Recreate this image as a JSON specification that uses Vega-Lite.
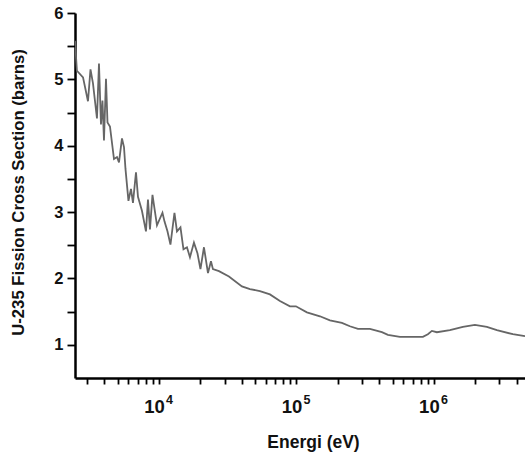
{
  "$schema": "https://vega.github.io/schema/vega-lite/v6.json",
  "width": 450,
  "height": 365,
  "autosize": "none",
  "padding": {"left": 75, "top": 13, "right": 0, "bottom": 77},
  "background": "white",
  "config": {"view": {"stroke": null}, "font": "Liberation Sans"},
  "resolve": {"axis": {"x": "independent"}},
  "layer": [
    {
      "data": {"values": [
        {"E": 2450, "sigma": 5.58},
        {"E": 2530, "sigma": 5.13},
        {"E": 2802, "sigma": 5.03},
        {"E": 3045, "sigma": 4.67},
        {"E": 3176, "sigma": 5.15},
        {"E": 3311, "sigma": 4.94},
        {"E": 3540, "sigma": 4.41},
        {"E": 3661, "sigma": 5.24},
        {"E": 3785, "sigma": 4.32},
        {"E": 3882, "sigma": 4.68},
        {"E": 3981, "sigma": 4.08},
        {"E": 4117, "sigma": 5.01},
        {"E": 4222, "sigma": 4.35},
        {"E": 4401, "sigma": 4.29},
        {"E": 4707, "sigma": 3.80},
        {"E": 4950, "sigma": 3.83},
        {"E": 5118, "sigma": 3.75},
        {"E": 5382, "sigma": 4.11},
        {"E": 5566, "sigma": 3.98},
        {"E": 5707, "sigma": 3.65},
        {"E": 5999, "sigma": 3.17},
        {"E": 6258, "sigma": 3.35},
        {"E": 6470, "sigma": 3.14},
        {"E": 6804, "sigma": 3.60},
        {"E": 7036, "sigma": 3.23},
        {"E": 7520, "sigma": 3.02},
        {"E": 8042, "sigma": 2.71},
        {"E": 8318, "sigma": 3.19},
        {"E": 8601, "sigma": 2.74},
        {"E": 8970, "sigma": 3.26},
        {"E": 9672, "sigma": 2.80},
        {"E": 10605, "sigma": 2.99},
        {"E": 10965, "sigma": 2.86},
        {"E": 11530, "sigma": 2.71},
        {"E": 12122, "sigma": 2.51},
        {"E": 12963, "sigma": 2.99},
        {"E": 13518, "sigma": 2.71},
        {"E": 14337, "sigma": 2.77},
        {"E": 15075, "sigma": 2.44},
        {"E": 15980, "sigma": 2.47},
        {"E": 16806, "sigma": 2.32},
        {"E": 17968, "sigma": 2.54},
        {"E": 19055, "sigma": 2.38},
        {"E": 20036, "sigma": 2.14},
        {"E": 21246, "sigma": 2.47},
        {"E": 22724, "sigma": 2.08},
        {"E": 23888, "sigma": 2.26},
        {"E": 24700, "sigma": 2.14},
        {"E": 27320, "sigma": 2.11},
        {"E": 32290, "sigma": 2.03},
        {"E": 40130, "sigma": 1.88},
        {"E": 45900, "sigma": 1.84},
        {"E": 54270, "sigma": 1.81},
        {"E": 64180, "sigma": 1.76},
        {"E": 75860, "sigma": 1.66},
        {"E": 89700, "sigma": 1.58},
        {"E": 99170, "sigma": 1.58},
        {"E": 119200, "sigma": 1.49},
        {"E": 148300, "sigma": 1.43},
        {"E": 175300, "sigma": 1.37},
        {"E": 214200, "sigma": 1.33},
        {"E": 244900, "sigma": 1.28},
        {"E": 280100, "sigma": 1.24},
        {"E": 342300, "sigma": 1.24},
        {"E": 418700, "sigma": 1.19},
        {"E": 463000, "sigma": 1.15},
        {"E": 565900, "sigma": 1.12},
        {"E": 703700, "sigma": 1.12},
        {"E": 831800, "sigma": 1.12},
        {"E": 904400, "sigma": 1.16},
        {"E": 967100, "sigma": 1.21},
        {"E": 1051000, "sigma": 1.19},
        {"E": 1307000, "sigma": 1.22},
        {"E": 1625000, "sigma": 1.27},
        {"E": 1987000, "sigma": 1.30},
        {"E": 2429000, "sigma": 1.27},
        {"E": 2872000, "sigma": 1.22},
        {"E": 3753000, "sigma": 1.16},
        {"E": 4600000, "sigma": 1.13}
      ]},
      "mark": {"type": "line", "color": "#666666", "strokeWidth": 1.8, "clip": true},
      "encoding": {
        "x": {
          "field": "E",
          "type": "quantitative",
          "scale": {"type": "log", "domain": [2450, 4600000], "nice": false},
          "axis": {
            "orient": "bottom",
            "title": "Energi (eV)",
            "values": [3000, 4000, 5000, 6000, 7000, 8000, 9000, 10000, 20000, 30000, 40000, 50000, 60000, 70000, 80000, 90000, 100000, 200000, 300000, 400000, 500000, 600000, 700000, 800000, 900000, 1000000, 2000000, 3000000, 4000000],
            "labelExpr": "datum.value == 10000 || datum.value == 100000 || datum.value == 1000000 ? '10' : ''",
            "labelOverlap": false,
            "labelFlush": false,
            "grid": false,
            "domainColor": "black",
            "domainWidth": 2.5,
            "tickColor": "black",
            "tickWidth": 1.8,
            "tickSize": 6,
            "labelFont": "Liberation Sans",
            "labelFontWeight": "bold",
            "labelFontSize": 18.5,
            "labelColor": "#111111",
            "labelBaseline": "alphabetic",
            "labelPadding": 28,
            "labelOffset": -5,
            "titleFont": "Liberation Sans",
            "titleFontWeight": "bold",
            "titleFontSize": 17.5,
            "titleColor": "#111111",
            "titleX": 238,
            "titleY": 64,
            "titleBaseline": "middle",
            "titleAnchor": null
          }
        },
        "y": {
          "field": "sigma",
          "type": "quantitative",
          "scale": {"domain": [0.5, 6], "nice": false, "zero": false},
          "axis": {
            "title": "U-235 Fission Cross Section (barns)",
            "values": [1, 1.5, 2, 2.5, 3, 3.5, 4, 4.5, 5, 5.5, 6],
            "labelExpr": "datum.value % 1 == 0 ? format(datum.value, 'd') : ''",
            "labelOverlap": false,
            "labelFlush": false,
            "grid": false,
            "domainColor": "black",
            "domainWidth": 2.5,
            "tickColor": "black",
            "tickWidth": 1.8,
            "tickSize": 8,
            "labelFont": "Liberation Sans",
            "labelFontWeight": "bold",
            "labelFontSize": 16.5,
            "labelColor": "#111111",
            "labelPadding": 4,
            "titleFont": "Liberation Sans",
            "titleFontWeight": "bold",
            "titleFontSize": 16.7,
            "titleColor": "#111111",
            "titleX": -57,
            "titleY": 179,
            "titleAngle": -90,
            "titleAlign": "center",
            "titleBaseline": "middle",
            "titleAnchor": null
          }
        }
      }
    },
    {
      "data": {"values": [
        {"E": 10000, "exponent": "4"},
        {"E": 100000, "exponent": "5"},
        {"E": 1000000, "exponent": "6"}
      ]},
      "mark": {"type": "rule", "strokeOpacity": 0},
      "encoding": {
        "x": {
          "field": "E",
          "type": "quantitative",
          "axis": {
            "orient": "bottom",
            "title": null,
            "values": [10000, 100000, 1000000],
            "labelExpr": "datum.value == 10000 ? '4' : datum.value == 100000 ? '5' : '6'",
            "labelOverlap": false,
            "labelFlush": false,
            "grid": false,
            "domain": false,
            "ticks": false,
            "tickSize": 0,
            "labelFont": "Liberation Sans",
            "labelFontWeight": "bold",
            "labelFontSize": 12.5,
            "labelColor": "#111111",
            "labelBaseline": "alphabetic",
            "labelPadding": 25,
            "labelOffset": 10
          }
        }
      }
    }
  ]
}
